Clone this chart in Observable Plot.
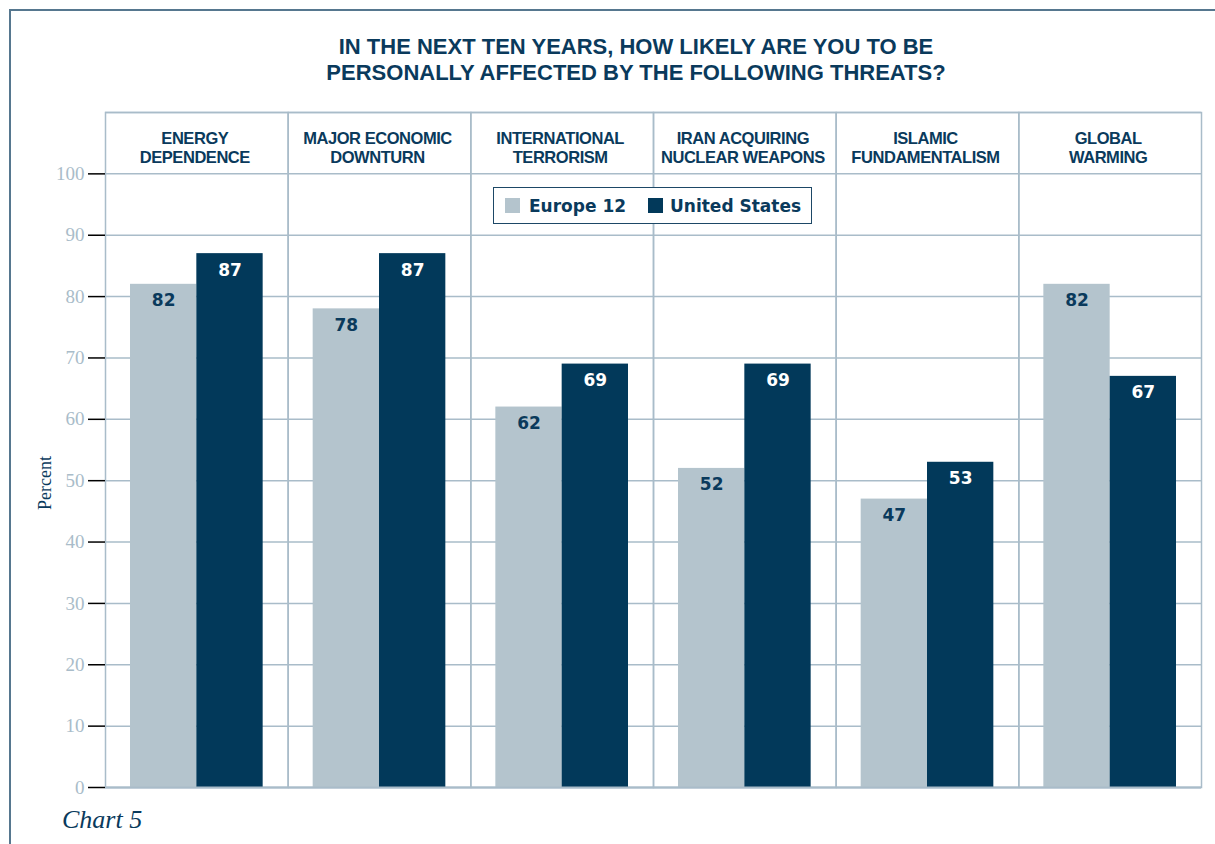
<!DOCTYPE html>
<html><head><meta charset="utf-8">
<script src="https://cdn.jsdelivr.net/npm/d3@7"></script>
<script src="https://cdn.jsdelivr.net/npm/@observablehq/plot@0.6"></script>
<style>
body{margin:0;background:#fff;width:1215px;height:844px;overflow:hidden;position:relative;}
#frame{position:absolute;left:9px;top:9px;width:1300px;height:900px;border-left:2px solid #56778f;border-top:2px solid #56778f;}
#title{position:absolute;left:636px;top:34px;transform:translateX(-50%);white-space:nowrap;text-align:center;font-family:"Liberation Sans",Arial,sans-serif;font-weight:bold;font-size:22px;line-height:26px;color:#0a3a5c;}
#chart{position:absolute;left:0;top:0;}
#legend{position:absolute;left:493px;top:187px;width:317px;height:35px;border:1.5px solid #1d4866;background:#fff;}
#legend .sw{position:absolute;top:10px;width:15px;height:15px;}
#legend .lb{position:absolute;top:8px;font-family:"DejaVu Sans",sans-serif;font-weight:bold;font-size:17px;line-height:20px;color:#0a3a5c;white-space:nowrap;}
#ylabel{position:absolute;left:45px;top:483px;transform:translate(-50%,-50%) rotate(-90deg);font-family:"Liberation Serif",serif;font-size:18px;color:#0a3a5c;white-space:nowrap;}
#caption{position:absolute;left:62px;top:807px;font-family:"Liberation Serif",serif;font-style:italic;font-size:26px;line-height:26px;color:#0a3a5c;}
svg [aria-label="y-axis tick"]{stroke:#a9bcc9;}
svg [aria-label="y-axis tick label"]{fill:#a9bcc9;font-family:"Liberation Serif",serif;font-size:19px;}
svg .hdr text{letter-spacing:-0.45px;}
</style></head><body>
<div id="frame"></div>
<div id="title">IN THE NEXT TEN YEARS, HOW LIKELY ARE YOU TO BE<br>PERSONALLY AFFECTED BY THE FOLLOWING THREATS?</div>
<div id="chart"></div>
<div id="legend"></div>
<div id="ylabel">Percent</div>
<div id="caption">Chart 5</div>
<script>
const categories = ["ENERGY\nDEPENDENCE", "MAJOR ECONOMIC\nDOWNTURN", "INTERNATIONAL\nTERRORISM", "IRAN ACQUIRING\nNUCLEAR WEAPONS", "ISLAMIC\nFUNDAMENTALISM", "GLOBAL\nWARMING"];
const series = ["Europe 12", "United States"];
const europe12 = [82, 78, 62, 52, 47, 82];
const unitedStates = [87, 87, 69, 69, 53, 67];
const yTicks = [0, 10, 20, 30, 40, 50, 60, 70, 80, 90, 100];
const colors = ["#b4c4cd", "#02395a"];

const data = categories.flatMap((c, i) => [
  {category: c, series: series[0], value: europe12[i]},
  {category: c, series: series[1], value: unitedStates[i]}
]);

const grid = "#a9bcc9";
const hdrSize = 16.5;
const chart = Plot.plot({
  width: 1215, height: 844,
  marginLeft: 105, marginRight: 14, marginTop: 112, marginBottom: 57,
  style: {background: "transparent", overflow: "visible"},
  fx: {domain: categories, padding: 0, round: false, axis: null, label: null},
  x: {domain: series, paddingInner: 0, paddingOuter: 0.377, round: false, axis: null, label: null},
  y: {domain: [0, 110], axis: null, label: null},
  color: {domain: series, range: colors},
  marks: [
    Plot.ruleY([...yTicks, 110], {stroke: grid, strokeWidth: 1.5}),
    Plot.frame({stroke: grid, strokeWidth: 1.5}),
    Plot.barY(data, {fx: "category", x: "series", y: "value", fill: "series"}),
    Plot.ruleY([0], {stroke: grid, strokeWidth: 2}),
    Plot.text(data.filter(d => d.series === series[0]), {fx: "category", x: "series", y: "value", text: d => String(d.value), lineAnchor: "top", dy: 10, fill: "#0a3a5c", fontFamily: "DejaVu Sans", fontWeight: "bold", fontSize: 17}),
    Plot.text(data.filter(d => d.series === series[1]), {fx: "category", x: "series", y: "value", text: d => String(d.value), lineAnchor: "top", dy: 10, fill: "#ffffff", fontFamily: "DejaVu Sans", fontWeight: "bold", fontSize: 17}),
    Plot.text(categories, {fx: d => d, text: d => d, frameAnchor: "top", lineAnchor: "top", dx: -2, dy: 142 - 112 - 0.71 * hdrSize, lineHeight: 19 / hdrSize, fill: "#0a3a5c", fontFamily: "Liberation Sans, Arial, sans-serif", fontWeight: "bold", fontSize: hdrSize, className: "hdr"}),
    Plot.axisY(yTicks, {anchor: "left", tickSize: 17, tickPadding: 4, label: null, strokeWidth: 1.5, fontFamily: "Liberation Serif", fontSize: 19})
  ]
});
document.getElementById("chart").appendChild(chart);

const legend = document.getElementById("legend");
const swX = [11, 154], lbX = [35, 176];
series.forEach((s, i) => {
  const sw = document.createElement("div");
  sw.className = "sw"; sw.style.left = swX[i] + "px"; sw.style.background = colors[i];
  legend.appendChild(sw);
  const lb = document.createElement("div");
  lb.className = "lb"; lb.style.left = lbX[i] + "px"; lb.textContent = s;
  legend.appendChild(lb);
});
</script>
</body></html>
